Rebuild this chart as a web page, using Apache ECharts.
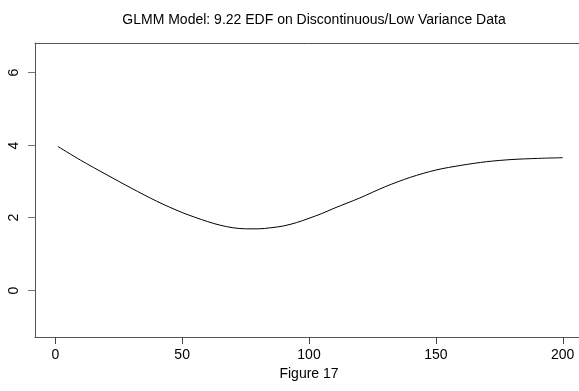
<!DOCTYPE html>
<html><head><meta charset="utf-8">
<script src="https://cdn.jsdelivr.net/npm/echarts@6/dist/echarts.min.js"></script>
<style>html,body{margin:0;padding:0;background:#fff}#c{width:579px;height:391px}</style>
</head><body><div id="c"></div>
<script>
var xValues = [1, 10, 20, 30, 40, 50, 60, 65, 70, 75, 80, 85, 90, 95, 100, 105, 110, 120, 130, 140, 150, 160, 170, 180, 190, 200];
var yValues = [3.95, 3.57, 3.18, 2.80, 2.44, 2.13, 1.88, 1.78, 1.71, 1.68, 1.68, 1.71, 1.76, 1.85, 1.97, 2.10, 2.25, 2.53, 2.84, 3.10, 3.30, 3.43, 3.53, 3.59, 3.62, 3.64];
var xTicks = [0, 50, 100, 150, 200];
var yTicks = [0, 2, 4, 6];
var xRange = [-8, 208];
var yRange = [-1.3, 6.8];
var titleText = 'GLMM Model: 9.22 EDF on Discontinuous/Low Variance Data';
var xLabel = 'Figure 17';

var data = xValues.map(function (x, i) { return [x, yValues[i]]; });
var chart = echarts.init(document.getElementById('c'));
var font = 'Liberation Sans, Arial, sans-serif';
var lineCol = '#555';
function boxLine() { return { show: true, onZero: false, lineStyle: { color: lineCol, width: 1 } }; }
chart.setOption({
  animation: false,
  title: { text: titleText, left: 309, top: 8, textAlign: 'center',
    textStyle: { fontFamily: font, fontSize: 14, fontWeight: 'normal', color: '#000' } },
  grid: { left: 35, top: 43, width: 548, height: 294, show: false, outerBoundsMode: 'none', containLabel: false },
  xAxis: [
    { type: 'value', min: xRange[0], max: xRange[1], name: xLabel, nameLocation: 'middle', nameGap: 30,
      nameTextStyle: { fontFamily: font, fontSize: 14, color: '#000' },
      axisLine: boxLine(), splitLine: { show: false }, axisTick: { show: false },
      axisLabel: { fontFamily: font, fontSize: 14, color: '#000', margin: 11, customValues: xTicks } },
    { type: 'value', position: 'top', min: xRange[0], max: xRange[1], axisLine: boxLine(),
      axisTick: { show: false }, axisLabel: { show: false }, splitLine: { show: false } }
  ],
  yAxis: { type: 'value', min: yRange[0], max: yRange[1], axisLine: boxLine(),
    axisTick: { show: false }, axisLabel: { show: false }, splitLine: { show: false } },
  series: [
    { type: 'line', data: data, smooth: 0.3, showSymbol: false, z: 3,
      lineStyle: { color: '#000', width: 1 } }
  ]
});

// Tick marks (thin filled rects) and rotated y labels, placed through the chart's own scales.
var gfx = [];
var yBottom = Math.round(chart.convertToPixel({ yAxisIndex: 0 }, yRange[0]));
var xLeft = Math.round(chart.convertToPixel({ xAxisIndex: 0 }, xRange[0]));
xTicks.forEach(function (v) {
  var px = Math.round(chart.convertToPixel({ xAxisIndex: 0 }, v));
  gfx.push({ type: 'rect', silent: true, z: 10,
    shape: { x: px, y: yBottom, width: 1, height: 7 },
    style: { fill: '#444' } });
});
yTicks.forEach(function (v) {
  var py = Math.round(chart.convertToPixel({ yAxisIndex: 0 }, v));
  gfx.push({ type: 'rect', silent: true, z: 10,
    shape: { x: xLeft - 7, y: py, width: 7, height: 1 },
    style: { fill: '#777' } });
  gfx.push({ type: 'text', silent: true, z: 10, x: xLeft - 21, y: py + 0.5, rotation: Math.PI / 2,
    style: { text: String(v), align: 'center', verticalAlign: 'middle', fill: '#000', font: '14px ' + font } });
});
chart.setOption({ graphic: { elements: gfx } });
</script></body></html>
